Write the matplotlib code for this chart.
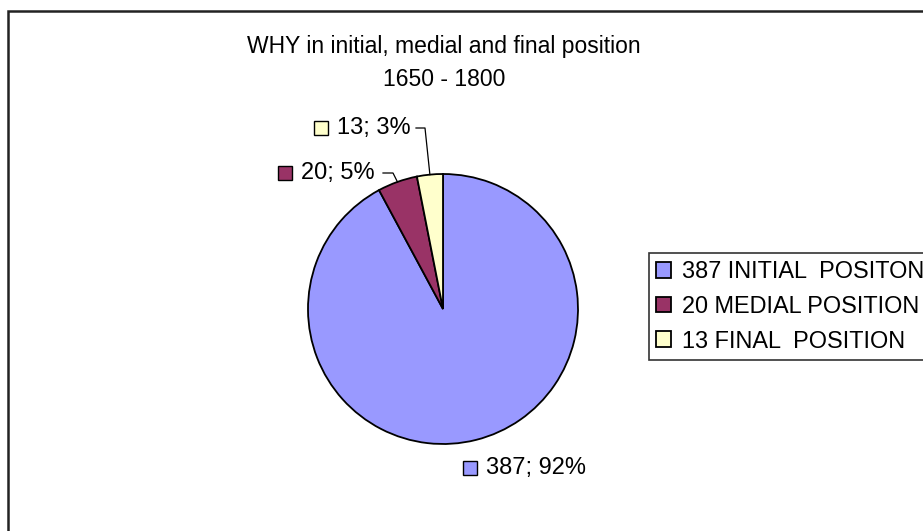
import numpy as np
import matplotlib
matplotlib.use('Agg')
import matplotlib.pyplot as plt
from matplotlib.patches import Rectangle

# data
categories = ['387 INITIAL  POSITON', '20 MEDIAL POSITION', '13 FINAL  POSITION']
counts = [387, 20, 13]
colors = ['#9999FF', '#993366', '#FFFFCC']
title_lines = ['WHY in initial, medial and final position', '1650 - 1800']

plt.rcParams['font.family'] = ['Liberation Sans', 'DejaVu Sans']
FS = 16.5

W, H = 923, 531
fig = plt.figure(figsize=(W / 100, H / 100), dpi=100)

def fx(x):
    return x / W

def fy(y):
    return 1 - y / H

# outer chart frame (runs off the right/bottom edge in the screenshot)
fig.patches.append(Rectangle((fx(8), -0.05), 1.2, fy(11) + 0.05, transform=fig.transFigure,
                             fill=False, edgecolor='#222222', linewidth=1.8))

fig.text(fx(444), fy(47), title_lines[0], ha='center', va='center', fontsize=FS)
fig.text(fx(444), fy(80), title_lines[1], ha='center', va='center', fontsize=FS)

cx, cy, r = 443, 309, 135
ax = fig.add_axes([fx(cx - r), fy(cy + r), 2 * r / W, 2 * r / H])
wedges, _ = ax.pie(counts, colors=colors, startangle=90, counterclock=False,
                   wedgeprops=dict(edgecolor='black', linewidth=1.3))
ax.set_xlim(-1, 1)
ax.set_ylim(-1, 1)

def to_data(px, py):
    return (px - cx) / r, (cy - py) / r

# data labels: (square left x, center y, leader x range) in screenshot pixels
total = sum(counts)
label_pos = [(463, 468, None), (278, 173, (383, 393)), (314, 128, (416, 425))]
for w, n, col, (lx, ly, lead) in zip(wedges, counts, colors, label_pos):
    fig.patches.append(Rectangle((fx(lx), fy(ly + 7)), 14 / W, 14 / H, transform=fig.transFigure,
                                 facecolor=col, edgecolor='black', linewidth=1))
    fig.text(fx(lx + 23), fy(ly), '%d; %d%%' % (n, round(n * 100.0 / total)),
             ha='left', va='center', fontsize=17)
    if lead is not None:
        mid = np.deg2rad((w.theta1 + w.theta2) / 2)
        x0, y0 = to_data(lead[0], ly)
        x1, y1 = to_data(lead[1], ly)
        ax.plot([x0, x1, np.cos(mid)], [y0, y1, np.sin(mid)], color='black', lw=0.9, clip_on=False)

leg = fig.legend(wedges, categories, loc='upper left', bbox_to_anchor=(fx(649), fy(253)),
                 fontsize=16.9, frameon=True, fancybox=False, framealpha=1, edgecolor='#333333',
                 borderpad=0.3, handlelength=0.65, handleheight=0.65, handletextpad=0.45,
                 labelspacing=0.5, borderaxespad=0)
leg.get_frame().set_linewidth(1.2)

fig.savefig('out.png', dpi=100)
